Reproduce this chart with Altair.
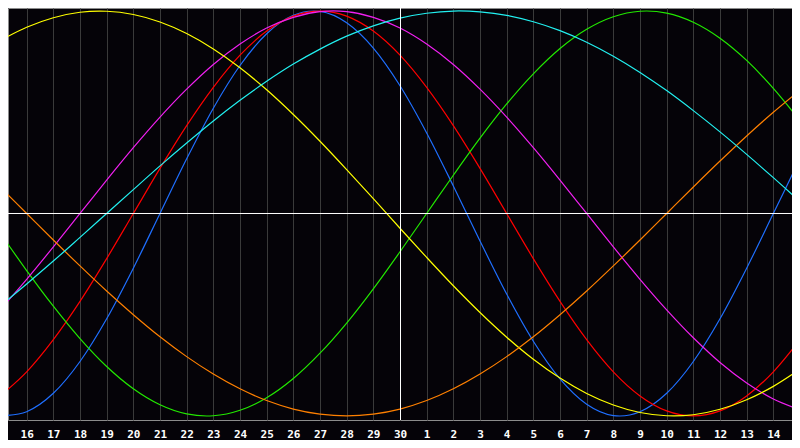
import altair as alt
import pandas as pd

# day positions across the 30-day window (0 = the 15th, 15 = the 30th "today")
positions = list(range(31))
day_labels = ["15", "16", "17", "18", "19", "20", "21", "22", "23", "24", "25",
              "26", "27", "28", "29", "30", "1", "2", "3", "4", "5", "6", "7",
              "8", "9", "10", "11", "12", "13", "14", "15"]
today_pos = [15]
zero_level = [0]

# curve values, one per day
blue = [-0.998, -0.979, -0.888, -0.731, -0.520, -0.270, 0.0, 0.270, 0.520, 0.731,
        0.888, 0.979, 0.998, 0.942, 0.817, 0.631, 0.398, 0.136, -0.136, -0.398,
        -0.631, -0.817, -0.942, -0.998, -0.979, -0.888, -0.731, -0.520, -0.270,
        0.0, 0.270]
red = [-0.901, -0.782, -0.623, -0.434, -0.223, 0.0, 0.223, 0.434, 0.623, 0.782,
       0.901, 0.975, 1.0, 0.975, 0.901, 0.782, 0.623, 0.434, 0.223, 0.0, -0.223,
       -0.434, -0.623, -0.782, -0.901, -0.975, -1.0, -0.975, -0.901, -0.782,
       -0.623]
green = [-0.095, -0.282, -0.458, -0.618, -0.756, -0.866, -0.945, -0.990, -0.999,
         -0.972, -0.910, -0.815, -0.690, -0.541, -0.372, -0.189, 0.0, 0.189,
         0.372, 0.541, 0.690, 0.815, 0.910, 0.972, 0.999, 0.990, 0.945, 0.866,
         0.756, 0.618, 0.458]
magenta = [-0.476, -0.325, -0.165, 0.0, 0.165, 0.325, 0.476, 0.614, 0.736, 0.837,
           0.916, 0.969, 0.997, 0.997, 0.969, 0.916, 0.837, 0.736, 0.614, 0.476,
           0.325, 0.165, 0.0, -0.165, -0.325, -0.476, -0.614, -0.736, -0.837,
           -0.916, -0.969]
yellow = [0.854, 0.920, 0.967, 0.994, 0.999, 0.983, 0.946, 0.889, 0.813, 0.720,
          0.611, 0.489, 0.357, 0.217, 0.073, -0.073, -0.217, -0.357, -0.489,
          -0.611, -0.720, -0.813, -0.889, -0.946, -0.983, -0.999, -0.994, -0.967,
          -0.920, -0.854, -0.769]
orange = [0.131, 0.0, -0.131, -0.259, -0.383, -0.500, -0.609, -0.707, -0.793,
          -0.866, -0.924, -0.966, -0.991, -1.0, -0.991, -0.966, -0.924, -0.866,
          -0.793, -0.707, -0.609, -0.500, -0.383, -0.259, -0.131, 0.0, 0.131,
          0.259, 0.383, 0.500, 0.609]
cyan = [-0.457, -0.348, -0.235, -0.118, 0.0, 0.118, 0.235, 0.348, 0.457, 0.559,
        0.653, 0.738, 0.812, 0.876, 0.927, 0.965, 0.989, 1.0, 0.996, 0.979,
        0.947, 0.903, 0.846, 0.777, 0.697, 0.607, 0.508, 0.403, 0.292, 0.177,
        0.059]

series_names = ["blue", "red", "green", "magenta", "yellow", "orange", "cyan"]
series_values = [blue, red, green, magenta, yellow, orange, cyan]
series_colors = ["#1f6fff", "#ff0000", "#22e800", "#f020f0", "#ffff00",
                 "#ff8000", "#22f0f0"]

rows = []
for name, vals in zip(series_names, series_values):
    for p, v in zip(positions, vals):
        rows.append({"p": p, "v": v, "series": name})
df = pd.DataFrame(rows)

x_scale = alt.Scale(domain=[0.3, 29.7], nice=False, zero=False)
y_scale = alt.Scale(domain=[-1.02, 1.015], nice=False, zero=False)

label_expr = "[" + ",".join("'%s'" % d for d in day_labels) + "][datum.value]"

x_axis = alt.Axis(
    values=positions[1:30], labelExpr=label_expr, grid=True,
    gridColor="#3a3a3a", gridWidth=1, ticks=False, domain=False,
    labelColor="#ffffff", labelFont="DejaVu Sans Mono", labelFontSize=11,
    labelFontWeight="bold", labelPadding=8, title=None, labelFlush=False,
    labelOverlap=False,
)

lines = alt.Chart(df).mark_line(strokeWidth=1.2, interpolate="cardinal", clip=True).encode(
    x=alt.X("p:Q", scale=x_scale, axis=x_axis),
    y=alt.Y("v:Q", scale=y_scale, axis=None),
    color=alt.Color("series:N", scale=alt.Scale(domain=series_names, range=series_colors), legend=None),
    detail="series:N",
)

hrule = alt.Chart(pd.DataFrame({"v": zero_level})).mark_rule(color="#ffffff", strokeWidth=1).encode(
    y=alt.Y("v:Q", scale=y_scale, axis=None)
)
vrule = alt.Chart(pd.DataFrame({"p": today_pos})).mark_rule(color="#ffffff", strokeWidth=1, xOffset=0.5).encode(
    x=alt.X("p:Q", scale=x_scale, axis=x_axis)
)

chart = alt.layer(lines, hrule, vrule).properties(
    width=784, height=412,
    autosize=alt.AutoSizeParams(type="none"),
    padding={"left": 0, "top": 0, "right": 0, "bottom": 20},
    background="#050308",
).configure_view(
    stroke="#8c8c8c", strokeWidth=1, fill="#050308"
)

chart.save("out.html", embed_options={"renderer": "svg", "actions": False})
